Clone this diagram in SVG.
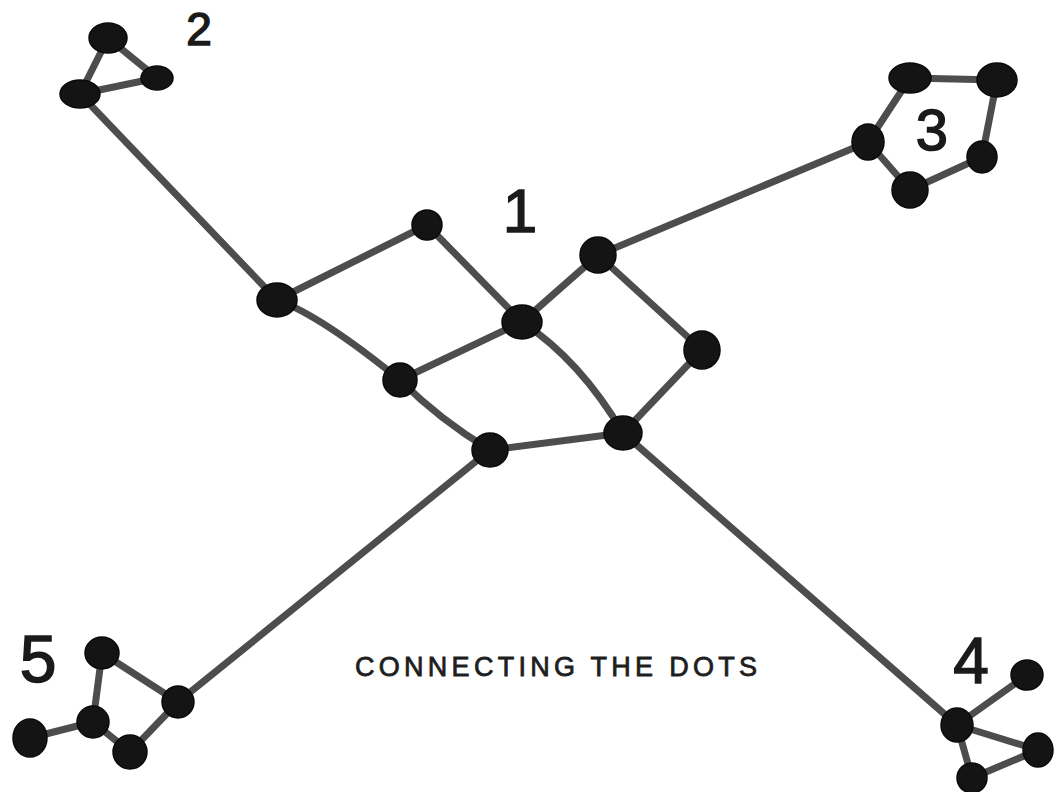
<svg xmlns="http://www.w3.org/2000/svg" width="1054" height="792" viewBox="0 0 1054 792">
<style>
.e{fill:none;stroke:#4d4d4d;stroke-width:7;stroke-linecap:round;stroke-linejoin:round}
.n{fill:#141414;stroke:#0a0a0a;stroke-width:1.5}
.num{font-family:"Liberation Sans",Arial,sans-serif;fill:#1a1a1a;stroke:#1a1a1a;stroke-width:1.5;text-anchor:middle}
.cap{font-family:"Liberation Sans",Arial,sans-serif;fill:#1e1e1e;stroke:#1e1e1e;stroke-width:0.8;font-size:27px}
</style>
<rect width="1054" height="792" fill="#ffffff"/>
<g id="connectors">
<!-- cluster 2 -->
<path class="e" d="M108,38 L80,94"/>
<path class="e" d="M108,38 L157,78"/>
<path class="e" d="M80,94 L157,78"/>
<path class="e" d="M80,94 Q205,225 277,300"/>
<!-- center -->
<path class="e" d="M277,300 L427,225"/>
<path class="e" d="M427,225 L522,322"/>
<path class="e" d="M277,300 Q320,315 400,380"/>
<path class="e" d="M400,380 L522,322"/>
<path class="e" d="M522,322 L598,255"/>
<path class="e" d="M598,255 L702,350"/>
<path class="e" d="M702,350 L623,433"/>
<path class="e" d="M522,322 Q580,360 623,433"/>
<path class="e" d="M400,380 Q440,420 490,450"/>
<path class="e" d="M490,450 L623,433"/>
<!-- arms -->
<path class="e" d="M598,255 L868,142"/>
<path class="e" d="M490,450 L178,702"/>
<path class="e" d="M623,433 L957,725"/>
<!-- cluster 3 -->
<path class="e" d="M910,78 L997,80"/>
<path class="e" d="M997,80 L982,157"/>
<path class="e" d="M982,157 L910,190"/>
<path class="e" d="M910,190 L868,142"/>
<path class="e" d="M868,142 L910,78"/>
<!-- cluster 5 -->
<path class="e" d="M102,653 L178,702"/>
<path class="e" d="M102,653 L93,722"/>
<path class="e" d="M93,722 L30,738"/>
<path class="e" d="M93,722 L130,752"/>
<path class="e" d="M130,752 L178,702"/>
<!-- cluster 4 -->
<path class="e" d="M957,725 L1027,675"/>
<path class="e" d="M957,725 L1038,750"/>
<path class="e" d="M957,725 L972,778"/>
<path class="e" d="M972,778 L1038,750"/>
</g>
<g id="cluster2">
<ellipse id="n2a" class="n" cx="108" cy="38" rx="19" ry="15"/>
<ellipse id="n2b" class="n" cx="157" cy="78" rx="16" ry="12"/>
<ellipse id="n2c" class="n" cx="80" cy="94" rx="20" ry="14"/>
<text class="num" x="199" y="45" font-size="46">2</text>
</g>
<g id="cluster1">
<ellipse id="nA" class="n" cx="277" cy="300" rx="20" ry="17"/>
<ellipse id="nB" class="n" cx="427" cy="225" rx="15" ry="15"/>
<ellipse id="nC" class="n" cx="522" cy="322" rx="20" ry="17"/>
<ellipse id="nD" class="n" cx="598" cy="255" rx="18" ry="18"/>
<ellipse id="nE" class="n" cx="702" cy="350" rx="18" ry="19"/>
<ellipse id="nF" class="n" cx="400" cy="380" rx="17" ry="17"/>
<ellipse id="nG" class="n" cx="490" cy="450" rx="18" ry="17"/>
<ellipse id="nH" class="n" cx="623" cy="433" rx="19" ry="17"/>
<text class="num" x="520" y="232" font-size="62">1</text>
</g>
<g id="cluster3">
<ellipse id="n3a" class="n" cx="910" cy="78" rx="21" ry="15"/>
<ellipse id="n3b" class="n" cx="997" cy="80" rx="20" ry="17"/>
<ellipse id="n3c" class="n" cx="868" cy="142" rx="16" ry="18"/>
<ellipse id="n3d" class="n" cx="982" cy="157" rx="15" ry="16"/>
<ellipse id="n3e" class="n" cx="910" cy="190" rx="18" ry="18"/>
<text class="num" x="932" y="150" font-size="58">3</text>
</g>
<g id="cluster5">
<ellipse id="n5a" class="n" cx="102" cy="653" rx="17" ry="16"/>
<ellipse id="n5b" class="n" cx="178" cy="702" rx="16" ry="16"/>
<ellipse id="n5c" class="n" cx="93" cy="722" rx="16" ry="16"/>
<ellipse id="n5d" class="n" cx="30" cy="738" rx="17" ry="19"/>
<ellipse id="n5e" class="n" cx="130" cy="752" rx="17" ry="17"/>
<text class="num" x="38" y="682" font-size="66">5</text>
</g>
<g id="cluster4">
<ellipse id="n4a" class="n" cx="957" cy="725" rx="16" ry="17"/>
<ellipse id="n4b" class="n" cx="1027" cy="675" rx="16" ry="15"/>
<ellipse id="n4c" class="n" cx="1038" cy="750" rx="15" ry="17"/>
<ellipse id="n4d" class="n" cx="972" cy="778" rx="15" ry="15"/>
<text class="num" x="971" y="683" font-size="64">4</text>
</g>
<g id="caption">
<text class="cap" x="355" y="676" textLength="402" lengthAdjust="spacing">CONNECTING THE DOTS</text>
</g>
</svg>
